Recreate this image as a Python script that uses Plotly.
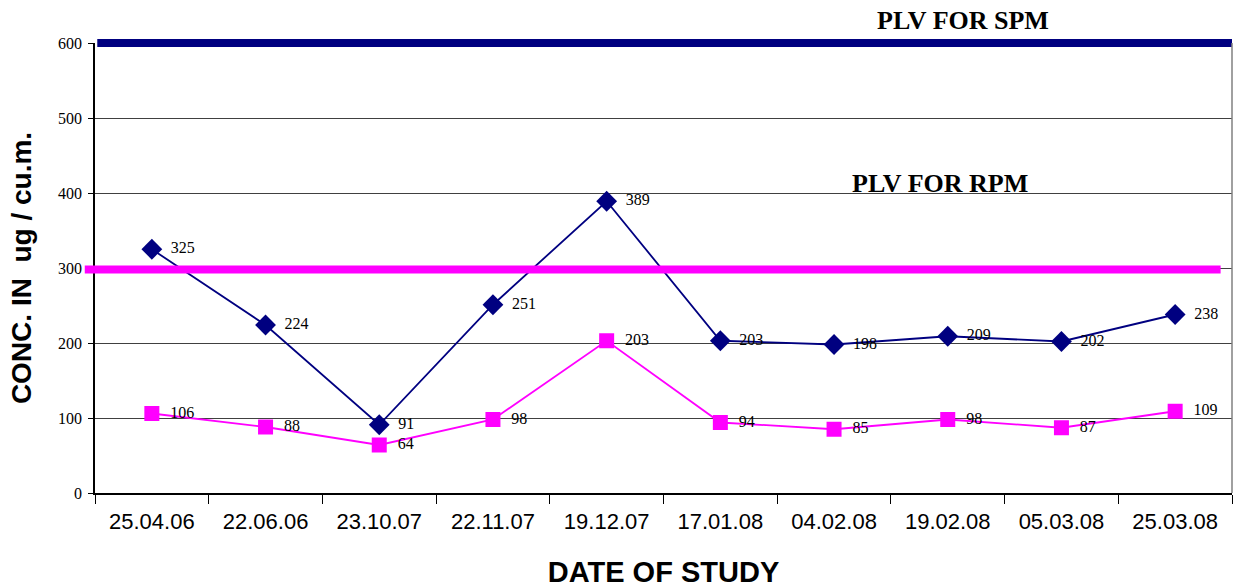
import plotly.graph_objects as go

dates = ["25.04.06", "22.06.06", "23.10.07", "22.11.07", "19.12.07",
         "17.01.08", "04.02.08", "19.02.08", "05.03.08", "25.03.08"]
spm = [325, 224, 91, 251, 389, 203, 198, 209, 202, 238]
rpm = [106, 88, 64, 98, 203, 94, 85, 98, 87, 109]
plv_spm = 600
plv_rpm = 300
y_max = 600

navy = "#000080"
magenta = "#FF00FF"
serif = "Liberation Serif, Times New Roman, serif"
sans = "Liberation Sans, Arial, sans-serif"
tfont = dict(family=serif, size=16, color="black")

fig = go.Figure()
fig.add_trace(go.Scatter(
    x=dates, y=spm, mode="lines+markers+text",
    line=dict(color=navy, width=1.8),
    marker=dict(symbol="diamond", size=16, color=navy),
    text=["  " + str(v) for v in spm], textposition="middle right",
    textfont=tfont, cliponaxis=False, showlegend=False))
fig.add_trace(go.Scatter(
    x=dates, y=rpm, mode="lines+markers+text",
    line=dict(color=magenta, width=1.8),
    marker=dict(symbol="square", size=15, color=magenta),
    text=["  " + str(v) for v in rpm], textposition="middle right",
    textfont=tfont, cliponaxis=False, showlegend=False))

# PLV lines
fig.add_shape(type="line", xref="paper", yref="paper", x0=0.002, x1=1.0,
              y0=plv_spm / y_max, y1=plv_spm / y_max,
              line=dict(color=navy, width=8), layer="above")
fig.add_shape(type="line", xref="paper", yref="paper", x0=-0.009, x1=0.99,
              y0=(plv_rpm - 2) / y_max, y1=(plv_rpm - 2) / y_max,
              line=dict(color=magenta, width=8), layer="above")
# right border
fig.add_shape(type="line", xref="paper", yref="paper", x0=1, x1=1, y0=0, y1=1,
              line=dict(color="#808080", width=1.5))

lbl_font = dict(family=serif, size=26, color="black")
fig.add_annotation(text="<b>PLV FOR SPM</b>", xref="paper", yref="paper",
                   x=0.763, y=1.0, yshift=23, xanchor="center", yanchor="middle",
                   showarrow=False, font=lbl_font)
fig.add_annotation(text="<b>PLV FOR RPM</b>", xref="paper", yref="y",
                   x=0.743, y=400, yshift=10, xanchor="center", yanchor="middle",
                   showarrow=False, font=lbl_font)

fig.update_layout(
    width=1234, height=588,
    margin=dict(l=95, r=2, t=43, b=95),
    plot_bgcolor="white", paper_bgcolor="white",
    xaxis=dict(type="category", tickson="boundaries", ticks="outside", ticklen=9,
               tickcolor="black", showline=True, linecolor="black", linewidth=1.5,
               showgrid=False, range=[-0.5, 9.5], automargin=False,
               ticklabelstandoff=8,
               tickfont=dict(family=sans, size=22, color="black"),
               title=dict(text="<b>DATE OF STUDY</b>", standoff=32,
                          font=dict(family=sans, size=29, color="black"))),
    yaxis=dict(range=[0, y_max], dtick=100, ticks="outside", ticklen=5, tickcolor="black",
               showline=True, linecolor="black", linewidth=1.5, automargin=False,
               showgrid=True, gridcolor="#404040", gridwidth=1, zeroline=False,
               ticklabelstandoff=3,
               tickfont=dict(family=serif, size=16, color="black"),
               title=dict(text="<b>CONC. IN  ug / cu.m.</b>", standoff=18,
                          font=dict(family=sans, size=28, color="black"))),
)

fig.write_html("out.html", config={"displayModeBar": False},
               post_script="document.body.style.margin='0';document.body.style.overflow='hidden';")
